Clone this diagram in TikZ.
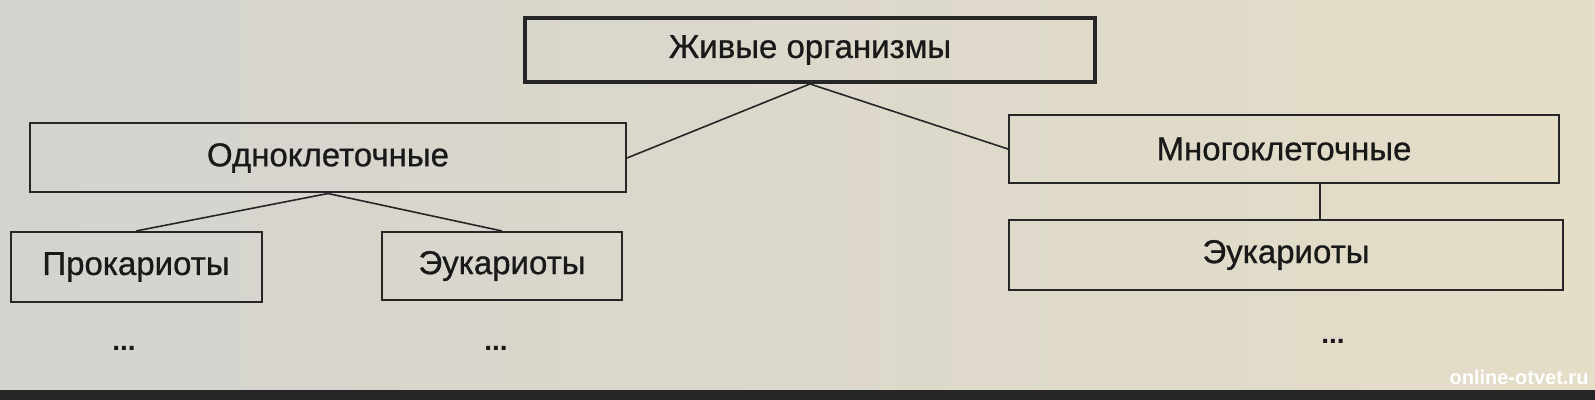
\documentclass[tikz,border=0pt]{standalone}
\usepackage{fontspec}
\setmainfont{Liberation Sans}
\newfontfamily\boxfont{Liberation Sans}[FakeBold=0.8]
\definecolor{paperL}{RGB}{212,211,207}
\definecolor{paperR}{RGB}{228,221,199}
\definecolor{ink}{RGB}{38,38,38}
\begin{document}
\begin{tikzpicture}[x = 0.5pt,
                    y = -0.5pt,
                    line width = 0.8pt,
                    draw = ink,
                    box/.style = {rectangle, draw = ink, line width = 1pt, inner sep = 0pt,
                                  text = black!90, font = \boxfont\fontsize{16.5}{20}\selectfont},
                    more/.style = {text = black!90, font = \bfseries\fontsize{14}{16}\selectfont}]

    \useasboundingbox (0,0) rectangle (1595,400);
    \shade[left color = paperL, right color = paperR] (0,0) rectangle (1595,400);
    \fill[black!85] (0,390) rectangle (1595,400);

    % \grid{0}{1595}{0}{400}
    \node[box, line width = 2pt, minimum width = 285pt, minimum height = 32pt] (org) at (810,50) {Живые организмы};
    \node[box, minimum width = 298pt, minimum height = 34.5pt] (uni) at (328,158) {Одноклеточные};
    \node[box, minimum width = 125.5pt, minimum height = 35pt] (prok) at (136,267) {Прокариоты};
    \node[box, minimum width = 120pt, minimum height = 34pt] (euk) at (502,266) {Эукариоты};
    \node[box, minimum width = 275pt, minimum height = 34pt] (multi) at (1284,149) {Многоклеточные};
    \node[box, minimum width = 277pt, minimum height = 35pt] (eukm) at (1286,255) {Эукариоты};

    \node[more] (prokmore) at (124,348) {...};
    \node[more] (eukmore) at (496,348) {...};
    \node[more] (eukmmore) at (1333,341) {...};

    \foreach \i/\j in {org.south/uni.east,
                       org.south/multi.west,
                       uni.south/prok.north,
                       uni.south/euk.north}
    {
        \draw (\i) -- (\j);
    }
    \draw ([xshift = 18pt]multi.south) -- ([xshift = 18pt]multi.south |- eukm.north);

    \node[text = white, font = \bfseries\fontsize{10}{12}\selectfont] (site) at (1519,377) {online-otvet.ru};
\end{tikzpicture}
\end{document}
